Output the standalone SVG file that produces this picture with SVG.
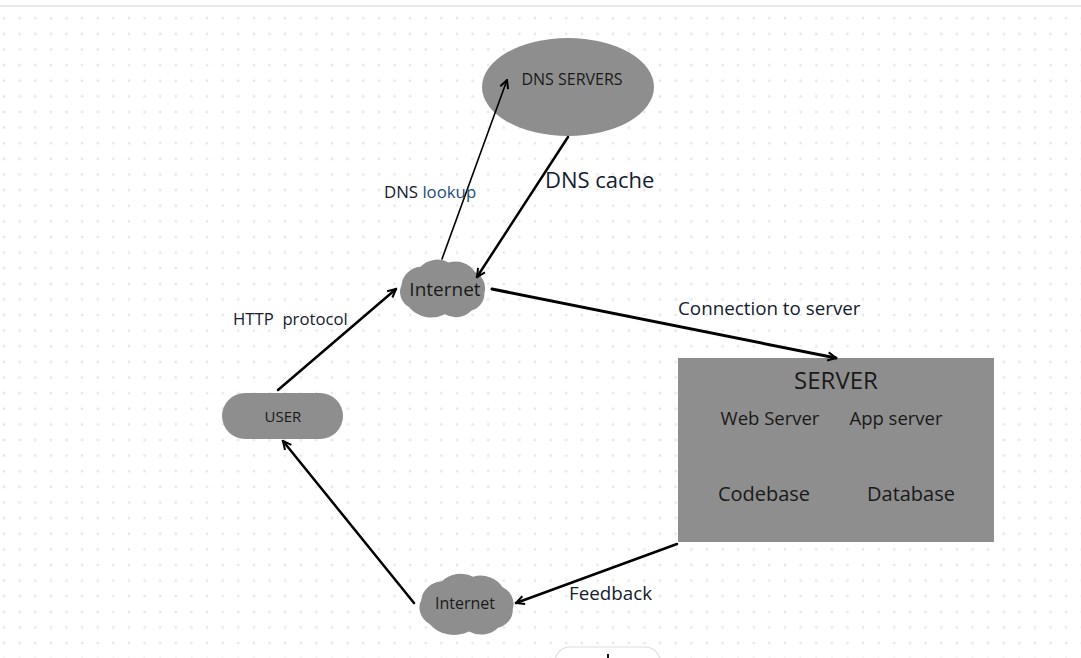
<svg xmlns="http://www.w3.org/2000/svg" width="1081" height="658" viewBox="0 0 1081 658">
<defs>
<pattern id="dots" patternUnits="userSpaceOnUse" x="-3.81" y="10.49" width="15.62" height="15.62">
<circle cx="7.81" cy="7.81" r="1.4" fill="#e5e7eb"/>
</pattern>
<marker id="arr" viewBox="0 0 12 12" refX="10.5" refY="6" markerWidth="11" markerHeight="11" markerUnits="userSpaceOnUse" orient="auto">
<path d="M1.5,1.5 L10.5,6 L1.5,10.5" fill="none" stroke="#000" stroke-width="2.2" stroke-linejoin="miter"/>
</marker>
<path id="cloud" d="M14,56 A21 21 0 0 1 6,30 A22 22 0 0 1 26,10 A24 24 0 0 1 56,5 A24 24 0 0 1 84,16 A21 21 0 0 1 94,40 A20 20 0 0 1 80,60 A22 22 0 0 1 52,64 A30 30 0 0 1 14,56 Z"/>
</defs>
<style>
.shape{fill:#8e8e8e;}
.t{font-family:"Open Sans","Liberation Sans",sans-serif;fill:#1a1a1a;text-anchor:middle;}
.lbl{font-family:"Open Sans","Liberation Sans",sans-serif;fill:#14202e;}
.c{fill:none;stroke:#000;stroke-linecap:round;}
</style>
<rect x="0" y="0" width="1081" height="658" fill="#ffffff"/>
<rect x="0" y="7" width="1081" height="651" fill="url(#dots)"/>
<line x1="0" y1="6" x2="1081" y2="6" stroke="#e0e0e0" stroke-width="1.5"/>

<g id="dns-servers">
<ellipse class="shape" cx="568" cy="87" rx="86" ry="49"/>
<text class="t" x="572" y="85" font-size="16">DNS SERVERS</text>
</g>

<g id="internet-top">
<use href="#cloud" class="shape" transform="translate(396,258) scale(0.94,0.88)"/>
<text class="t" x="445" y="296" font-size="19">Internet</text>
</g>

<g id="user">
<rect class="shape" x="222" y="393" width="121" height="46" rx="23"/>
<text class="t" x="283" y="422" font-size="15">USER</text>
</g>

<g id="server">
<rect class="shape" x="678" y="358" width="316" height="184"/>
<text class="t" x="836" y="389" font-size="24">SERVER</text>
<text class="t" x="770" y="425" font-size="18.5">Web Server</text>
<text class="t" x="896" y="425" font-size="18.5">App server</text>
<text class="t" x="764" y="501" font-size="20">Codebase</text>
<text class="t" x="911" y="501" font-size="20">Database</text>
</g>

<g id="internet-bottom">
<use href="#cloud" class="shape" transform="translate(415,572) scale(1.04,0.93)"/>
<text class="t" x="465" y="609" font-size="16">Internet</text>
</g>

<g id="connectors">
<line class="c" x1="278" y1="390" x2="396" y2="289" stroke-width="2.5" marker-end="url(#arr)"/>
<line class="c" x1="442" y1="259" x2="507" y2="80" stroke-width="1.6" marker-end="url(#arr)"/>
<line class="c" x1="568" y1="137" x2="477" y2="277" stroke-width="2.5" marker-end="url(#arr)"/>
<line class="c" x1="492" y1="289" x2="836" y2="358" stroke-width="3" marker-end="url(#arr)"/>
<line class="c" x1="677" y1="544" x2="516" y2="603" stroke-width="2.5" marker-end="url(#arr)"/>
<line class="c" x1="414" y1="603" x2="283" y2="441" stroke-width="2.5" marker-end="url(#arr)"/>
</g>

<g id="labels">
<text class="lbl" x="384" y="198" font-size="16.8">DNS <tspan fill="#1d4f7a">lookup</tspan></text>
<text class="lbl" x="545" y="188" font-size="22">DNS cache</text>
<text class="lbl" x="233" y="325" font-size="16.7" xml:space="preserve">HTTP  protocol</text>
<text class="lbl" x="678" y="315" font-size="18.8">Connection to server</text>
<text class="lbl" x="569" y="600" font-size="18.8">Feedback</text>
</g>

<g id="partial-bottom">
<rect x="555" y="647" width="105" height="30" rx="15" fill="#ffffff" stroke="#dddddd" stroke-width="1.2"/>
<rect x="607" y="654" width="2" height="4" fill="#111"/>
</g>
</svg>
